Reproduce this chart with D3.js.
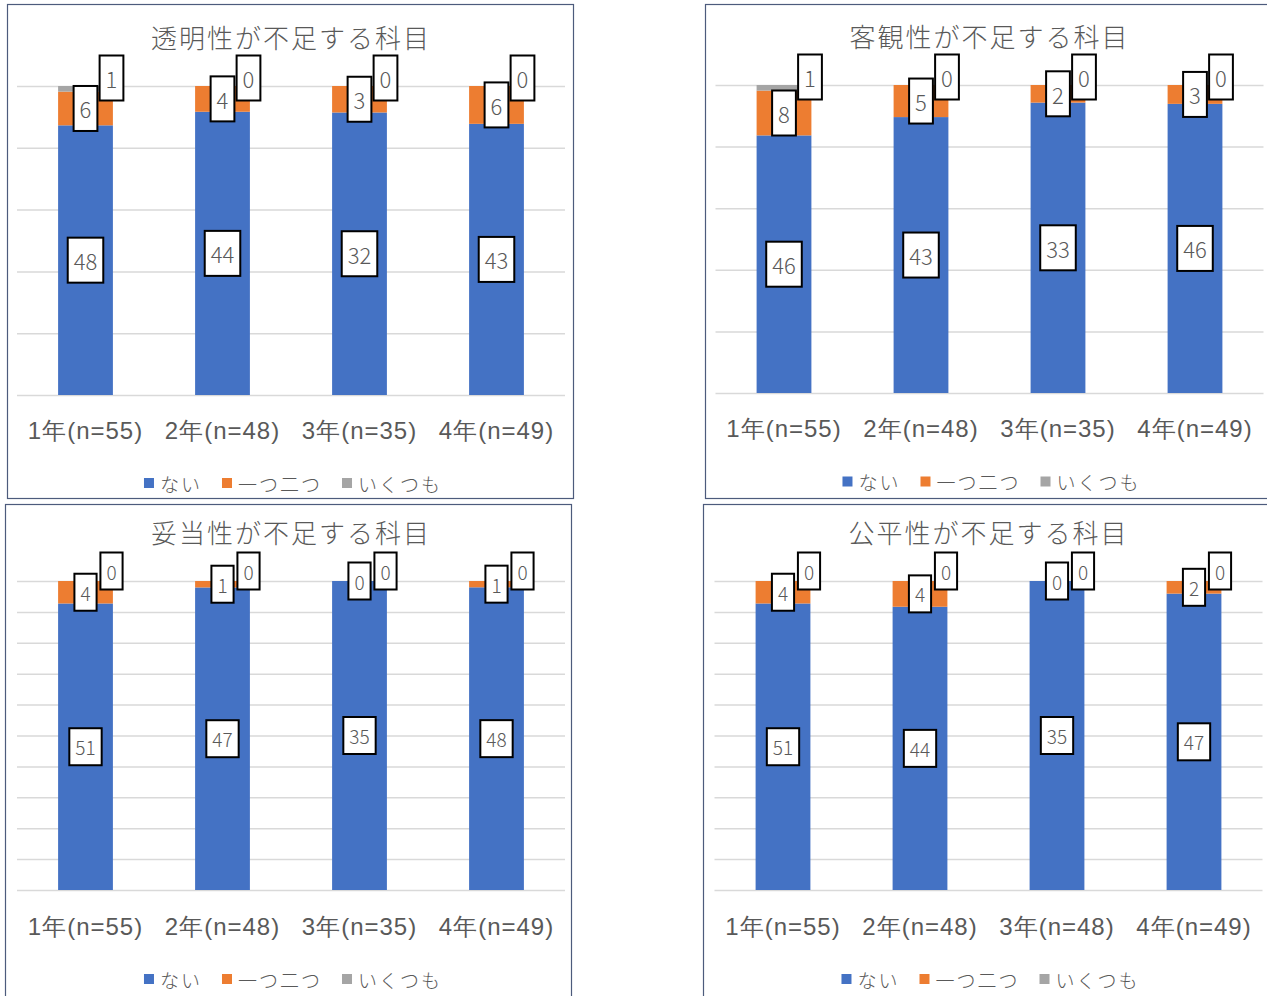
<!DOCTYPE html>
<html>
<head>
<meta charset="utf-8">
<title>不足する科目</title>
<style>
  body { margin: 0; background: #fff; }
  svg { display: block; font-family: "Noto Sans CJK JP", "Noto Sans", sans-serif; font-weight: 300; }
  .frame { fill: #fff; stroke: #4d5b7c; stroke-width: 1.2; }
  .grid line { stroke: #d9d9d9; stroke-width: 1.5; }
  .grid path { display: none; }
  .axis path, .axis line { display: none; }
  .axis text { fill: #595959; }
  .title { fill: #595959; }
  .legend text { fill: #595959; }
  .lbl rect { fill: #fff; stroke: #000; stroke-width: 2; }
  .lbl text { fill: #595959; }
</style>
</head>
<body>
<svg id="chart" width="1267" height="996"></svg>
<script src="https://d3js.org/d3.v7.min.js"></script>
<script>
// categories
var catsA = ["1年(n=55)", "2年(n=48)", "3年(n=35)", "4年(n=49)"];
var catsB = ["1年(n=55)", "2年(n=48)", "3年(n=48)", "4年(n=49)"];
var seriesNames = ["ない", "一つ二つ", "いくつも"];
var colors = ["#4472c4", "#ed7d31", "#a5a5a5"];

// 透明性
var toumeiNai = [48, 44, 32, 43];
var toumeiHitotsu = [6, 4, 3, 6];
var toumeiIkutsu = [1, 0, 0, 0];
// 客観性
var kyakkanNai = [46, 43, 33, 46];
var kyakkanHitotsu = [8, 5, 2, 3];
var kyakkanIkutsu = [1, 0, 0, 0];
// 妥当性
var datouNai = [51, 47, 35, 48];
var datouHitotsu = [4, 1, 0, 1];
var datouIkutsu = [0, 0, 0, 0];
// 公平性
var kouheiNai = [51, 44, 35, 47];
var kouheiHitotsu = [4, 4, 0, 2];
var kouheiIkutsu = [0, 0, 0, 0];

var panels = [
  {title: "透明性が不足する科目", cats: catsA, vals: [toumeiNai, toumeiHitotsu, toumeiIkutsu],
   fx: 7, fy: 4, x0: 17, x1: 565, yTop: 86, yBot: 395, titleY: 36.5, labY: 430, legY: 483, ticks: 5, lf: 22, lh: 45, gdy: 8},
  {title: "客観性が不足する科目", cats: catsA, vals: [kyakkanNai, kyakkanHitotsu, kyakkanIkutsu],
   fx: 705, fy: 4, x0: 715.5, x1: 1263.5, yTop: 85, yBot: 393, titleY: 35, labY: 428.5, legY: 481.5, ticks: 5, lf: 22, lh: 45, gdy: 8},
  {title: "妥当性が不足する科目", cats: catsA, vals: [datouNai, datouHitotsu, datouIkutsu],
   fx: 5, fy: 504, x0: 17, x1: 565, yTop: 581, yBot: 890, titleY: 531.5, labY: 926, legY: 979, ticks: 10, lf: 19, lh: 37, gdy: 10},
  {title: "公平性が不足する科目", cats: catsB, vals: [kouheiNai, kouheiHitotsu, kouheiIkutsu],
   fx: 703, fy: 504, x0: 714.5, x1: 1262.5, yTop: 581, yBot: 890, titleY: 531.5, labY: 926, legY: 979, ticks: 10, lf: 19, lh: 37, gdy: 10}
];

var svg = d3.select("#chart");

panels.forEach(function(p) {
  var g = svg.append("g");

  g.append("rect").attr("class", "frame")
    .attr("x", p.fx + 0.5).attr("y", p.fy + 0.5)
    .attr("width", 566).attr("height", 494);

  var x = d3.scaleBand().domain(p.cats).range([p.x0, p.x1])
    .paddingInner(0.6).paddingOuter(0.3);
  var y = d3.scaleLinear().domain([0, 1]).range([p.yBot, p.yTop]);

  // gridlines
  g.append("g").attr("class", "grid")
    .attr("transform", "translate(" + p.x0 + ",0)")
    .call(d3.axisLeft(y).ticks(p.ticks).tickSize(-(p.x1 - p.x0)).tickFormat(""));

  // stacked (100%) data
  var rows = p.cats.map(function(c, j) {
    var r = {cat: c};
    seriesNames.forEach(function(s, i) { r[s] = p.vals[i][j]; });
    return r;
  });
  var stacked = d3.stack().keys(seriesNames).offset(d3.stackOffsetExpand)(rows);

  g.selectAll(".series").data(stacked).enter().append("g")
    .attr("fill", function(d, i) { return colors[i]; })
    .selectAll("rect").data(function(d) { return d; }).enter().append("rect")
    .attr("x", function(d) { return x(d.data.cat); })
    .attr("y", function(d) { return y(d[1]); })
    .attr("width", x.bandwidth())
    .attr("height", function(d) { return y(d[0]) - y(d[1]); });

  // title
  g.append("text").attr("class", "title")
    .attr("x", (p.x0 + p.x1) / 2).attr("y", p.titleY)
    .attr("text-anchor", "middle").attr("dominant-baseline", "central")
    .style("font-size", "26px").style("letter-spacing", "2px")
    .text(p.title);

  // category axis
  var ax = g.append("g").attr("class", "axis")
    .attr("transform", "translate(0," + p.labY + ")")
    .call(d3.axisBottom(x).tickSize(0).tickPadding(0));
  ax.selectAll("text").attr("y", 0).attr("dy", null)
    .attr("dominant-baseline", "central")
    .style("font-size", "24px").style("letter-spacing", "1px");

  // data labels
  stacked.forEach(function(layer, i) {
    layer.forEach(function(d, j) {
      var cx = x(d.data.cat) + x.bandwidth() / 2;
      var cy = y((d[0] + d[1]) / 2);
      if (i === 2) { cx += 26; cy = p.yTop - p.gdy; }
      var lg = g.append("g").attr("class", "lbl");
      var r = lg.append("rect");
      var t = lg.append("text").attr("x", cx).attr("y", cy)
        .attr("text-anchor", "middle").attr("dominant-baseline", "central")
        .style("font-size", p.lf + "px")
        .text(p.vals[i][j]);
      var w = t.node().getComputedTextLength() + 12;
      r.attr("x", cx - w / 2).attr("y", cy - p.lh / 2)
        .attr("width", w).attr("height", p.lh);
    });
  });

  // legend
  var leg = g.append("g").attr("class", "legend");
  var off = 0;
  seriesNames.forEach(function(s, i) {
    leg.append("rect").attr("x", off).attr("y", -5).attr("width", 10).attr("height", 10)
      .attr("fill", colors[i]);
    var t = leg.append("text").attr("x", off + 16).attr("y", 0)
      .attr("dominant-baseline", "central")
      .style("font-size", "19px").style("letter-spacing", "2px")
      .text(s);
    off += 16 + t.node().getComputedTextLength() + 20;
  });
  off -= 20;
  leg.attr("transform", "translate(" + ((p.x0 + p.x1) / 2 - off / 2 + 2) + "," + p.legY + ")");
});
</script>
</body>
</html>
